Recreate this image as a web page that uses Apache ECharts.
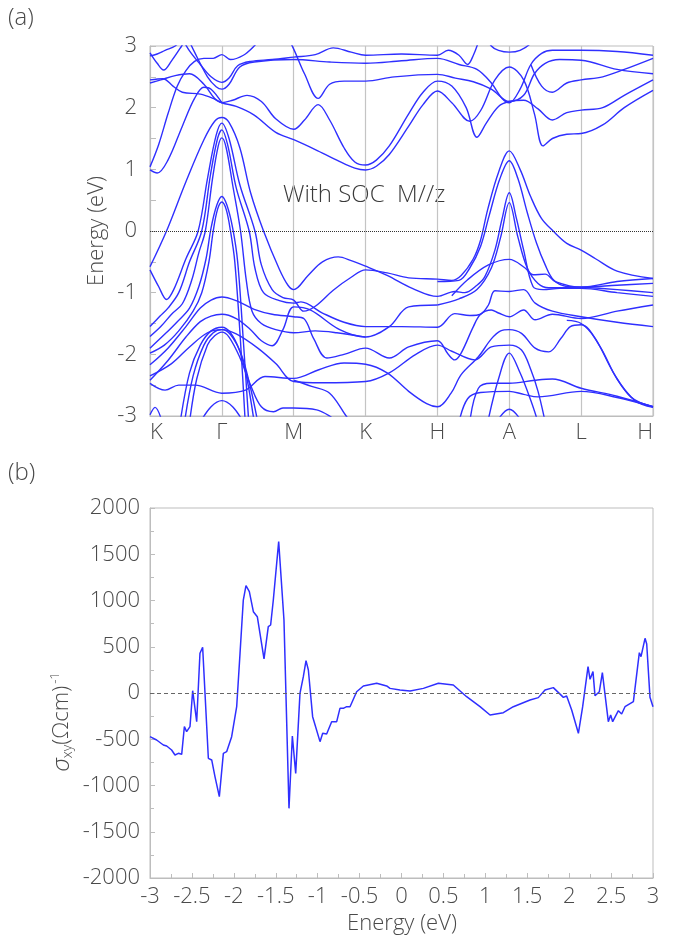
<!DOCTYPE html>
<html>
<head>
<meta charset="utf-8">
<script src="https://cdn.jsdelivr.net/npm/echarts@6/dist/echarts.min.js"></script>
<style>
  html, body { margin: 0; padding: 0; background: #fff; }
  #main { width: 675px; height: 946px; }
</style>
</head>
<body>
<div id="main"></div>
<script>
// high-symmetry path labels (k = 0..7)
const kLabels = ['K', 'Γ', 'M', 'K', 'H', 'A', 'L', 'H'];

// bands above ~0.9 eV, [k, energy]
const bandsUpper = [
  [[0,2.89],[0.1,2.72],[0.19,2.61],[0.3,2.76],[0.44,3.0],[0.52,3.15]],
  [[0,2.84],[0.1,2.87],[0.21,2.93],[0.35,3.0],[0.45,3.12]],
  [[0.45,3.12],[0.55,2.92],[0.7,2.7],[0.85,2.5],[1,2.41],[1.1,2.48],[1.22,2.68],[1.4,2.75],[1.7,2.78],[2,2.82],[2.3,2.86],[2.55,2.97],[2.8,2.9],[3,2.85],[3.5,2.87],[4,2.85],[4.15,2.93],[4.3,2.85],[4.42,2.7],[4.5,2.85],[4.58,3.1]],
  [[0.52,3.15],[0.62,2.9],[0.8,2.5],[0.92,2.34],[1,2.3],[1.1,2.38],[1.25,2.66],[1.45,2.74],[2,2.78],[2.5,2.74],[3,2.72],[3.5,2.76],[4,2.8],[4.3,2.7],[4.55,2.62],[4.75,2.4],[4.9,2.15],[5,2.08],[5.15,2.3],[5.3,2.7],[5.45,2.88],[5.6,2.93],[6,2.93],[6.5,2.91],[7,2.85]],
  [[0,1.04],[0.12,1.4],[0.25,1.9],[0.38,2.35],[0.5,2.6],[0.62,2.75],[0.75,2.8],[0.88,2.8],[1,2.86],[1.12,2.78],[1.3,2.85],[1.45,3.0],[1.6,3.2]],
  [[0,0.99],[0.1,0.94],[0.25,1.15],[0.45,1.7],[0.62,2.15],[0.75,2.33],[0.85,2.3],[1,2.08]],
  [[0,2.45],[0.18,2.47],[0.32,2.35],[0.45,2.25],[0.7,2.22],[0.88,2.15],[1,2.08],[1.15,2.12],[1.35,2.2],[1.55,2.1],[1.75,1.82],[2,1.65],[2.15,1.8],[2.34,2.05],[2.5,1.8],[2.7,1.35],[2.85,1.12],[3,1.07],[3.15,1.15],[3.33,1.38],[3.6,1.9],[3.8,2.25],[4,2.43],[4.2,2.35],[4.4,2.0],[4.55,1.52],[4.68,1.75],[4.85,2.02],[5,2.1],[5.2,2.12],[5.4,1.98],[5.6,1.8],[5.8,1.92],[6,1.96],[6.3,2.0],[6.6,2.2],[7,2.45]],
  [[0,2.4],[0.15,2.45],[0.35,2.52],[0.55,2.55],[0.75,2.38],[0.9,2.15],[1,2.08],[1.2,2.02],[1.45,1.88],[1.75,1.6],[2,1.48],[2.3,1.32],[2.6,1.15],[2.85,1.02],[3,0.99],[3.15,1.05],[3.33,1.24],[3.6,1.7],[3.8,2.05],[4,2.27],[4.2,2.08],[4.45,1.78],[4.6,1.95],[4.8,2.45],[5,2.66],[5.2,2.45],[5.35,1.9],[5.47,1.38],[5.6,1.5],[5.8,1.57],[6,1.58],[6.3,1.72],[6.6,2.0],[7,2.28]],
  [[1.85,3.3],[2,2.95],[2.15,2.55],[2.34,2.15],[2.5,2.38],[2.7,2.43],[3,2.43],[3.4,2.5],[4,2.54],[4.25,2.48],[4.5,2.42],[4.75,2.3],[5,2.1],[5.2,2.2],[5.35,2.55],[5.5,2.72],[5.7,2.78],[6,2.77],[6.5,2.62],[7,2.55]],
  [[4.6,3.3],[4.75,3.0],[4.85,2.93],[5,2.9],[5.15,2.93],[5.3,3.05],[5.4,3.3]],
  [[5.3,2.7],[5.45,2.35],[5.6,2.25],[5.8,2.4],[6,2.45],[6.3,2.5],[6.6,2.62],[7,2.8]]
];

// bands crossing the Fermi level around Γ and A
const bandsFermi = [
  [[0,-0.58],[0.23,0],[0.5,0.8],[0.75,1.48],[0.9,1.78],[1,1.84],[1.1,1.76],[1.25,1.35],[1.4,0.62],[1.58,0],[1.8,-0.62],[1.92,-0.88],[2,-0.95],[2.2,-0.72],[2.4,-0.5],[2.62,-0.42],[2.8,-0.48],[3,-0.57],[3.3,-0.72],[3.65,-0.93],[4,-1.06],[4.24,-0.98],[4.38,-1.0],[4.55,-0.88],[4.66,-0.74],[4.8,-0.31],[4.9,0.2],[5,0.62],[5.1,0.2],[5.2,-0.31],[5.33,-0.9],[5.47,-0.95],[5.7,-0.93],[6,-0.93],[6.5,-1.0],[7,-1.06]],
  [[0,-0.63],[0.12,-0.9],[0.23,-1.11],[0.33,-0.95],[0.5,-0.45],[0.67,0],[0.8,0.85],[0.92,1.55],[1,1.75],[1.1,1.5],[1.25,0.75],[1.46,0],[1.55,-0.55],[1.7,-0.95],[1.85,-1.08],[2,-1.12],[2.14,-1.3],[2.3,-1.22],[2.55,-0.96],[2.8,-0.75],[3,-0.63],[3.3,-0.68],[3.6,-0.76],[4,-0.78],[4.2,-0.8],[4.33,-0.72],[4.5,-0.45],[4.6,-0.15],[4.7,0.35],[4.85,0.95],[5,1.3],[5.15,1.0],[5.3,0.55],[5.45,0.2],[5.61,0],[5.8,-0.2],[6,-0.31],[6.2,-0.45],[6.5,-0.65],[7,-0.77]],
  [[0,-1.55],[0.14,-1.38],[0.25,-1.25],[0.4,-1.0],[0.55,-0.5],[0.72,0],[0.84,0.9],[0.94,1.5],[1,1.64],[1.08,1.4],[1.2,0.7],[1.38,0],[1.46,-0.6],[1.58,-1.0],[1.8,-1.13],[2,-1.17],[2.1,-1.15],[2.4,-1.33],[2.7,-1.48],[3,-1.55],[3.5,-1.55],[4,-1.56],[4.24,-1.34],[4.45,-1.37],[4.6,-1.35],[4.71,-1.2],[4.8,-0.97],[5,-0.98],[5.2,-0.95],[5.36,-1.17],[5.6,-1.3],[6,-1.39],[6.5,-1.48],[7,-1.55]],
  [[0,-1.71],[0.15,-1.55],[0.3,-1.35],[0.45,-1.18],[0.58,-0.8],[0.68,-0.35],[0.77,0],[0.87,0.85],[0.95,1.38],[1,1.51],[1.06,1.35],[1.15,0.75],[1.26,0],[1.34,-0.8],[1.42,-1.3],[1.55,-1.5],[1.75,-1.6],[2,-1.65],[2.3,-1.62],[2.6,-1.65],[3,-1.72]],
  [[0,-1.9],[0.2,-1.68],[0.38,-1.47],[0.55,-1.25],[0.68,-0.9],[0.78,-0.45],[0.85,0.05],[0.93,0.42],[1,0.56],[1.07,0.42],[1.15,0.05],[1.22,-0.5],[1.3,-1.8],[1.38,-3.2]],
  [[0,-1.98],[0.2,-1.85],[0.4,-1.62],[0.6,-1.3],[0.72,-1.0],[0.82,-0.5],[0.88,0],[0.94,0.35],[1,0.47],[1.06,0.35],[1.12,0],[1.18,-0.5],[1.26,-1.8],[1.33,-3.2]],
  [[4,-0.82],[4.3,-0.8],[4.45,-0.6],[4.6,-0.25],[4.72,0.25],[4.87,0.85],[5,1.14],[5.12,0.85],[5.25,0.3],[5.38,-0.2],[5.5,-0.55],[5.62,-0.8],[5.8,-0.9],[6,-0.91],[6.5,-0.95],[7,-1.0]],
  [[4,-1.2],[4.3,-1.1],[4.55,-0.95],[4.75,-0.6],[4.88,-0.1],[5,0.46],[5.12,-0.1],[5.25,-0.6],[5.4,-0.85],[5.55,-0.92],[6,-0.91],[6.5,-0.88],[7,-0.85]]
];

// bands below -1 eV
const bandsLower = [
  [[0,-2.17],[0.25,-1.9],[0.5,-1.55],[0.7,-1.25],[0.85,-1.12],[1,-1.07],[1.2,-1.13],[1.45,-1.27],[1.7,-1.35],[2,-1.39],[2.14,-1.42],[2.28,-1.75],[2.46,-2.06],[2.7,-2.0],[3,-1.9],[3.33,-2.06],[3.6,-1.88],[4,-1.78],[4.15,-2.0],[4.24,-2.09],[4.33,-1.98],[4.5,-1.55],[4.6,-1.35],[4.75,-1.28],[4.85,-1.33],[5,-1.39],[5.2,-1.28],[5.36,-1.44],[5.6,-1.35],[6,-1.42],[6.5,-1.3],[7,-1.2]],
  [[0,-2.42],[0.25,-2.1],[0.5,-1.72],[0.7,-1.47],[0.85,-1.38],[1,-1.35],[1.2,-1.42],[1.4,-1.6],[1.55,-1.78],[1.7,-1.86],[1.85,-1.6],[2,-1.23],[2.23,-1.28],[2.64,-1.6],[3,-1.72],[3.33,-1.55],[3.6,-1.23],[4,-1.2]],
  [[0.42,-3.1],[0.55,-2.3],[0.7,-1.85],[0.85,-1.62],[1,-1.56],[1.12,-1.65],[1.25,-1.95],[1.35,-2.4],[1.45,-3.1]],
  [[0.48,-3.1],[0.6,-2.35],[0.75,-1.85],[0.88,-1.65],[1,-1.6],[1.12,-1.68],[1.27,-2.0],[1.4,-2.55],[1.5,-3.1]],
  [[0.55,-3.1],[0.65,-2.4],[0.8,-1.85],[0.9,-1.7],[1,-1.64],[1.1,-1.72],[1.25,-2.05],[1.4,-2.5],[1.55,-2.85],[1.72,-2.93],[1.85,-2.87],[2,-2.87],[2.32,-2.9],[2.5,-3.0],[2.6,-3.1]],
  [[0,-2.35],[0.3,-2.15],[0.55,-1.88],[0.8,-1.65],[1,-1.6],[1.2,-1.67],[1.5,-1.9],[1.75,-2.15],[2,-2.44],[2.4,-2.46],[3,-2.44],[3.33,-2.3],[3.7,-2.0],[4,-1.85],[4.2,-1.95],[4.52,-2.09],[4.75,-1.88],[5,-1.85],[5.17,-1.93],[5.3,-2.25],[5.4,-2.6],[5.5,-3.1]],
  [[0,-2.47],[0.21,-2.58],[0.4,-2.5],[0.63,-2.5],[1,-2.63],[1.33,-2.58],[1.6,-2.36],[2,-2.39],[2.35,-2.25],[2.7,-2.14],[3,-2.16],[3.3,-2.3],[3.6,-2.6],[3.85,-2.8],[4,-2.85],[4.19,-2.63],[4.33,-2.33],[4.57,-2.04],[4.75,-1.75],[4.88,-1.62],[5,-1.6],[5.17,-1.66],[5.36,-1.9],[5.55,-1.96],[5.72,-1.74],[5.85,-1.55],[6,-1.52],[6.25,-1.85],[6.5,-2.4],[6.75,-2.75],[7,-2.86]],
  [[2,-2.42],[2.25,-2.52],[2.5,-2.63],[2.73,-3.0],[2.8,-3.1]],
  [[0.7,-3.1],[0.85,-2.85],[1,-2.75],[1.15,-2.85],[1.3,-3.1]],
  [[0,-2.98],[0.07,-2.86],[0.17,-3.1]],
  [[4.2,-1.05],[4.42,-0.79],[4.71,-0.55],[5,-0.46],[5.22,-0.6],[5.33,-0.71],[5.5,-0.7],[5.64,-0.82],[6,-0.91],[6.5,-0.82],[7,-0.77]],
  [[4.7,-3.1],[4.85,-2.4],[5,-1.98],[5.15,-2.3],[5.3,-2.75],[5.4,-3.1]],
  [[4.45,-3.1],[4.57,-2.55],[4.75,-2.47],[5,-2.47],[5.36,-2.42],[5.6,-2.4],[6,-2.55],[6.5,-2.68],[7,-2.85]],
  [[4.3,-3.1],[4.42,-2.72],[4.6,-2.62],[5,-2.6],[5.2,-2.65],[5.4,-2.69],[6,-2.6],[6.5,-2.7],[7,-2.85]],
  [[4.82,-3.1],[5,-2.89],[5.18,-3.1]],
  [[5.8,-1.45],[6,-1.5],[6.2,-1.75],[6.45,-2.3],[6.7,-2.7],[7,-2.85]]
];

// anomalous Hall conductivity
const sigmaEnergy = [-3.0,-2.921,-2.841,-2.801,-2.742,-2.702,-2.662,-2.622,-2.59,-2.563,-2.523,-2.491,-2.443,-2.404,-2.372,-2.304,-2.264,-2.225,-2.173,-2.125,-2.086,-2.026,-1.966,-1.926,-1.887,-1.855,-1.815,-1.767,-1.72,-1.64,-1.589,-1.561,-1.529,-1.465,-1.402,-1.342,-1.302,-1.262,-1.211,-1.171,-1.139,-1.111,-1.06,-0.972,-0.94,-0.893,-0.833,-0.813,-0.773,-0.734,-0.694,-0.654,-0.614,-0.535,-0.455,-0.296,-0.177,-0.137,-0.018,0.102,0.261,0.44,0.618,0.777,0.937,1.056,1.215,1.334,1.533,1.632,1.712,1.811,1.931,1.97,2.03,2.11,2.161,2.225,2.249,2.284,2.308,2.36,2.396,2.467,2.495,2.519,2.587,2.626,2.666,2.766,2.837,2.857,2.905,2.925,2.964,3.0];
const sigmaValue = [-472,-508,-562,-573,-616,-670,-652,-663,-364,-418,-364,25,-310,429,494,-706,-724,-905,-1121,-652,-634,-472,-148,429,1005,1160,1096,879,825,368,717,735,1005,1636,789,-1247,-465,-869,-4,177,350,249,-256,-526,-436,-443,-310,-292,-310,-166,-166,-148,-148,14,76,105,76,50,32,22,50,105,86,-40,-148,-238,-213,-148,-76,-50,32,58,-47,-32,-184,-436,-148,285,148,231,-29,14,220,-310,-238,-310,-191,-227,-148,-94,436,393,591,530,-47,-148];

const chart = echarts.init(document.getElementById('main'));

const font = "'Open Sans', 'Noto Sans', sans-serif";
const axisGrey = '#bdbdbd';
const textGrey = '#4a4a4a';
const bandBlue = '#2f2fff';

const bandSeries = [...bandsUpper, ...bandsFermi, ...bandsLower].map((curve, i) => {
  const s = {
    type: 'line',
    xAxisIndex: 0,
    yAxisIndex: 0,
    data: curve,
    smooth: 0.35,
    showSymbol: false,
    silent: true,
    lineStyle: { color: bandBlue, width: 1.4 },
    z: 3
  };
  if (i === 0) {
    s.markLine = {
      silent: true,
      symbol: ['none', 'none'],
      label: { show: false },
      lineStyle: { color: '#333', type: 'dotted', width: 1 },
      data: [{ yAxis: 0 }]
    };
  }
  return s;
});

const sigmaSeries = {
  type: 'line',
  xAxisIndex: 1,
  yAxisIndex: 1,
  data: sigmaEnergy.map((e, i) => [e, sigmaValue[i]]),
  showSymbol: false,
  silent: true,
  lineStyle: { color: bandBlue, width: 1.5 },
  markLine: {
    silent: true,
    symbol: ['none', 'none'],
    label: { show: false },
    lineStyle: { color: '#666', type: [4, 3], width: 1 },
    data: [{ yAxis: 0 }]
  },
  z: 3
};

const labelStyle = { color: textGrey, fontFamily: font, fontWeight: 300, fontSize: 22 };

const option = {
  backgroundColor: '#fff',
  animation: false,
  grid: [
    { left: 150, top: 46, width: 503, height: 370, show: true, borderColor: axisGrey, borderWidth: 1, containLabel: false, outerBoundsMode: 'none' },
    { left: 150, top: 508, width: 503, height: 370, show: true, borderColor: axisGrey, borderWidth: 1, containLabel: false, outerBoundsMode: 'none' }
  ],
  xAxis: [
    {
      gridIndex: 0,
      type: 'value',
      min: 0,
      max: 7,
      interval: 1,
      axisLine: { onZero: false, lineStyle: { color: axisGrey } },
      axisTick: { show: false },
      splitLine: { show: true, lineStyle: { color: '#c4c4c4', width: 1.2 } },
      axisLabel: {
        ...labelStyle,
        margin: 6,
        alignMinLabel: 'left',
        alignMaxLabel: 'right',
        formatter: (v) => kLabels[Math.round(v)]
      }
    },
    {
      gridIndex: 1,
      type: 'value',
      min: -3,
      max: 3,
      interval: 0.5,
      axisLine: { onZero: false, lineStyle: { color: axisGrey } },
      axisTick: { inside: true, length: 5, lineStyle: { color: axisGrey } },
      minorTick: { show: true, splitNumber: 2, length: 4, lineStyle: { color: axisGrey } },
      splitLine: { show: false },
      axisLabel: { ...labelStyle, margin: 8, formatter: (v) => String(v) }
    }
  ],
  yAxis: [
    {
      gridIndex: 0,
      type: 'value',
      min: -3,
      max: 3,
      interval: 1,
      axisLine: { show: true, onZero: false, lineStyle: { color: axisGrey } },
      axisTick: { show: true, inside: true, length: 6, lineStyle: { color: axisGrey } },
      minorTick: { show: true, splitNumber: 2, length: 6, lineStyle: { color: axisGrey } },
      splitLine: { show: false },
      axisLabel: { ...labelStyle, margin: 13, formatter: (v) => String(v) }
    },
    {
      gridIndex: 1,
      type: 'value',
      min: -2000,
      max: 2000,
      interval: 500,
      axisLine: { show: true, onZero: false, lineStyle: { color: axisGrey } },
      axisTick: { show: true, inside: true, length: 5, lineStyle: { color: axisGrey } },
      minorTick: { show: true, splitNumber: 2, length: 4, lineStyle: { color: axisGrey } },
      splitLine: { show: false },
      axisLabel: { ...labelStyle, margin: 10, formatter: (v) => String(v) }
    }
  ],
  graphic: [
    { type: 'text', x: 8, y: 6, style: { text: '(a)', font: `300 24px ${font}`, fill: textGrey } },
    { type: 'text', x: 8, y: 461, style: { text: '(b)', font: `300 24px ${font}`, fill: textGrey } },
    { type: 'text', x: 283, y: 195, style: { text: 'With SOC  M//z', font: `300 24px ${font}`, fill: '#3a3a3a', verticalAlign: 'middle' } },
    { type: 'text', x: 97, y: 231, rotation: Math.PI / 2, style: { text: 'Energy (eV)', font: `300 22px ${font}`, fill: textGrey, align: 'center', verticalAlign: 'middle' } },
    { type: 'text', x: 402, y: 924, style: { text: 'Energy (eV)', font: `300 22px ${font}`, fill: textGrey, align: 'center', verticalAlign: 'middle' } },
    {
      type: 'text',
      x: 62,
      y: 722,
      rotation: Math.PI / 2,
      style: {
        text: '{s|σ}{sub|xy}{n|(Ωcm)}{sup|-1}',
        align: 'center',
        verticalAlign: 'middle',
        fill: textGrey,
        rich: {
          s: { fontFamily: font, fontWeight: 300, fontSize: 24, fontStyle: 'italic', fill: textGrey },
          sub: { fontFamily: font, fontWeight: 300, fontSize: 14, fill: textGrey, padding: [12, 0, 0, 0] },
          n: { fontFamily: font, fontWeight: 300, fontSize: 22, fill: textGrey },
          sup: { fontFamily: font, fontWeight: 300, fontSize: 13, fill: textGrey, padding: [0, 0, 14, 2] }
        }
      }
    }
  ],
  series: [...bandSeries, sigmaSeries]
};

chart.setOption(option);
window.addEventListener('resize', function () {
  chart.resize();
});
</script>
</body>
</html>
